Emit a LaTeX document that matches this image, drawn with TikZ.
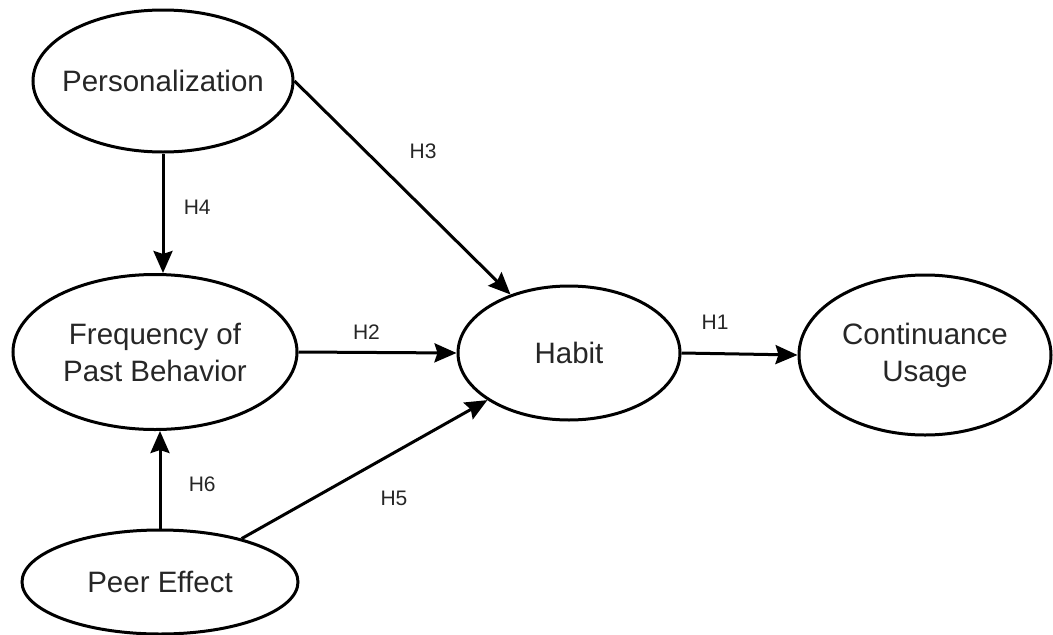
\documentclass[tikz,border=0pt]{standalone}
\usepackage{fontspec}
\setmainfont{Liberation Sans}
\usetikzlibrary{shapes.geometric,arrows.meta}
\begin{document}
\begin{tikzpicture}[
		x=1pt,y=-1pt,
		construct/.style={
			draw,
			ellipse,
			line width=3pt,
			inner xsep=-40pt,
			inner ysep=0pt,
			align=center,
			text=black!85,
			font=\fontsize{29.5}{37}\selectfont
		},
		hyp/.style={
			text=black!85,
			font=\fontsize{21}{25}\selectfont
		},
		link/.style={
			->,
			line width=3pt
		},
		>={Stealth[length=22pt,width=19pt,inset=3pt]}
		]
		\useasboundingbox (0,0) rectangle (1053,635);
		\node[construct,minimum width=260pt,minimum height=142pt] (pers) at (163,81) {Personalization};
		\node[construct,minimum width=284pt,minimum height=155pt] (freq) at (155,352) {Frequency of\\Past Behavior};
		\node[construct,minimum width=276pt,minimum height=104pt] (peer) at (160,582) {Peer Effect};
		\node[construct,minimum width=222pt,minimum height=134pt] (habit) at (569,353) {Habit};
		\node[construct,minimum width=252pt,minimum height=160pt] (cont) at (925,355) {Continuance\\Usage};
		\draw[link] (habit.east) -- node[hyp,pos=0.29,above=19pt] (h1) {H1} (cont.west);
		\draw[link] (freq.east) -- node[hyp,pos=0.43,above=8pt] (h2) {H2} (habit.west);
		\draw[link] (pers.east) -- node[hyp,pos=0.33,right=39pt] (h3) {H3} (habit.135);
		\draw[link] (pers.south) -- node[hyp,pos=0.45,right=16pt] (h4) {H4} (pers.south |- freq.north);
		\draw[link] (peer.28) -- node[hyp,pos=0.62,below=33pt] (h5) {H5} (habit.210);
		\draw[link] (peer.north) -- node[hyp,pos=0.45,right=24pt] (h6) {H6} (peer.north |- freq.south);
\end{tikzpicture}
\end{document}
